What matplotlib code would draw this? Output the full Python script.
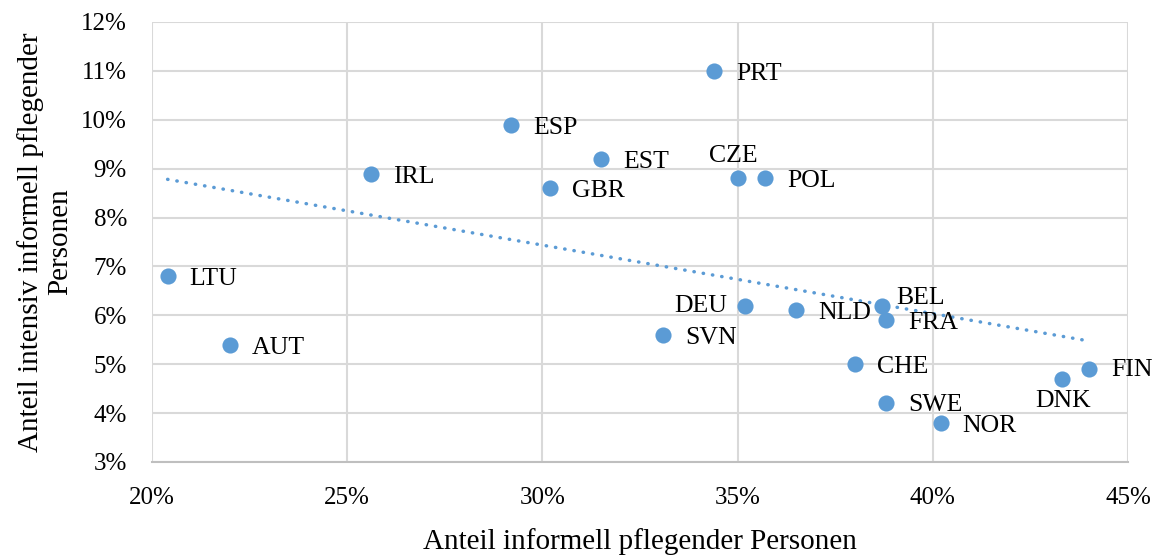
import matplotlib
matplotlib.use("Agg")
import matplotlib.pyplot as plt
import numpy as np
from matplotlib.ticker import FuncFormatter

countries = ["PRT", "ESP", "EST", "IRL", "GBR", "CZE", "POL", "LTU", "AUT", "DEU",
             "NLD", "BEL", "FRA", "SVN", "CHE", "SWE", "NOR", "DNK", "FIN"]
x_share = [34.4, 29.2, 31.5, 25.6, 30.2, 35.0, 35.7, 20.4, 22.0, 35.2,
           36.5, 38.7, 38.8, 33.1, 38.0, 38.8, 40.2, 43.3, 44.0]
y_share = [11.0, 9.9, 9.2, 8.9, 8.6, 8.8, 8.8, 6.8, 5.4, 6.2,
           6.1, 6.2, 5.9, 5.6, 5.0, 4.2, 3.8, 4.7, 4.9]
x_ticks = [20, 25, 30, 35, 40, 45]
y_ticks = [3, 4, 5, 6, 7, 8, 9, 10, 11, 12]

# label offsets in pixels (dx, dy, ha)
offsets = {
    "DEU": (-18, 0, "right"),
    "CZE": (-4, 22, "center"),
    "BEL": (14, 8, "left"),
    "DNK": (-26, -22, "left"),
    "NOR": (22, -3, "left"),
    "SWE": (22, -2, "left"),
    "FRA": (22, -3, "left"),
    "FIN": (22, -1, "left"),
}

blue = "#5B9BD5"
plt.rcParams['font.family'] = ['Liberation Serif', 'DejaVu Serif']

fig = plt.figure(figsize=(11.57, 5.56), dpi=100)
ax = fig.add_axes([152/1157, 1-462/556, (1128-152)/1157, (462-22)/556])

ax.set_xlim(20, 45)
ax.set_ylim(3, 12)
ax.set_xticks(x_ticks)
ax.set_yticks(y_ticks)
ax.xaxis.set_major_formatter(FuncFormatter(lambda v, p: f"{v:.0f}%"))
ax.yaxis.set_major_formatter(FuncFormatter(lambda v, p: f"{v:.0f}%"))
ax.grid(True, color="#D9D9D9", linewidth=1.5)
ax.set_axisbelow(True)
for s in ["top", "right", "left"]:
    ax.spines[s].set_visible(False)
ax.spines["bottom"].set_color("#BFBFBF")
ax.spines["bottom"].set_linewidth(1.5)
ax.tick_params(length=0, labelsize=18)
ax.tick_params(axis="y", pad=18)
ax.tick_params(axis="x", pad=18)

# trendline
coef = np.polyfit(x_share, y_share, 1)
xs = np.array([min(x_share), max(x_share)])
ax.plot(xs, np.polyval(coef, xs), color=blue, linewidth=2.5,
        linestyle=(0, (0.1, 2.6)), dash_capstyle="round", zorder=2)

ax.scatter(x_share, y_share, s=135, color=blue, zorder=3, linewidths=0)

for c, xv, yv in zip(countries, x_share, y_share):
    dx, dy, ha = offsets.get(c, (22, -3, "left"))
    ax.annotate(c, (xv, yv), xytext=(dx * 0.72, dy * 0.72), textcoords="offset points",
                ha=ha, va="center", fontsize=18.5, color="#000000", zorder=4)

ax.set_xlabel("Anteil informell pflegender Personen", fontsize=21, labelpad=14)
ax.set_ylabel("Anteil intensiv informell pflegender\nPersonen", fontsize=21, labelpad=6,
              linespacing=1.15)

fig.savefig("out.png", dpi=100)
